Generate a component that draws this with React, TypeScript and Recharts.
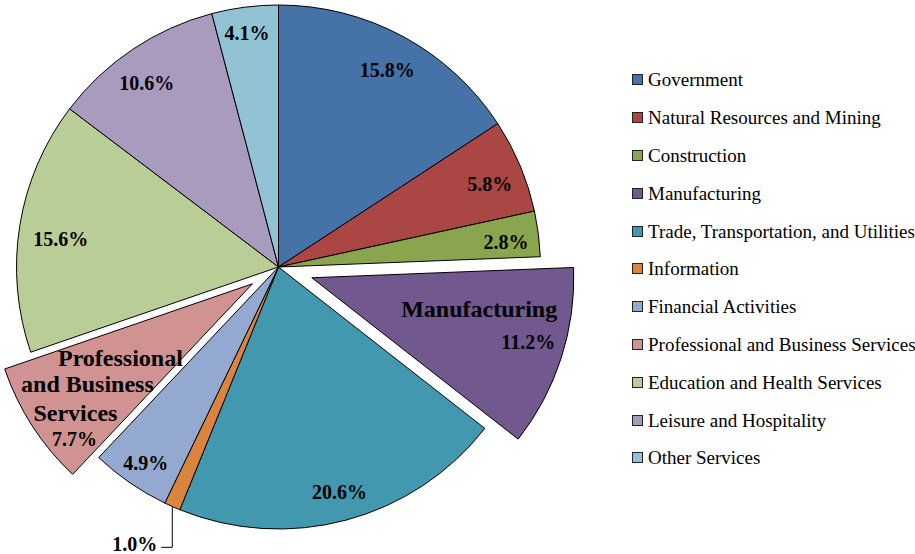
import React from 'react';
import { PieChart, Pie, Cell, Legend } from 'recharts';

const categories = [
  'Government',
  'Natural Resources and Mining',
  'Construction',
  'Manufacturing',
  'Trade, Transportation, and Utilities',
  'Information',
  'Financial Activities',
  'Professional and Business Services',
  'Education and Health Services',
  'Leisure and Hospitality',
  'Other Services',
];
const shares = [15.8, 5.8, 2.8, 11.2, 20.6, 1.0, 4.9, 7.7, 15.6, 10.6, 4.1];
const colors = [
  '#4572A7', '#AA4643', '#89A54E', '#71588F', '#4198AF', '#DB843D',
  '#93A9CF', '#D19392', '#B9CD96', '#A99BBD', '#92C3D4',
];
// explosion distance (px) per slice
const explode = [0, 0, 0, 35, 0, 0, 0, 31, 0, 0, 0];
// label placement: radius fraction + angle tweak (deg)
const labelR = [0.858, 0.866, 0.873, 0.954, 0.891, 1, 0.903, 0.756, 0.838, 0.863, 0.902];
const labelDA = [-0.5, -1.4, -1.1, 6.9, 0.2, 0, 0.4, 2.3, 1.7, 1.8, 0.3];

const data = categories.map((name, i) => ({ name, value: shares[i] }));
const total = shares.reduce((a, b) => a + b, 0);
const RAD = Math.PI / 180;

const midAngleOf = (i: number) => {
  const before = shares.slice(0, i).reduce((a, b) => a + b, 0);
  return 90 - (360 * (before + shares[i] / 2)) / total;
};
const explodeVec = (i: number): [number, number] => {
  const a = midAngleOf(i) * RAD;
  return [explode[i] * Math.cos(a), -explode[i] * Math.sin(a)];
};

const CX = 278.5;
const CY = 267;
const R = 262;
const FONT = '"Liberation Serif", "Times New Roman", serif';

const pctText = (i: number) => `${shares[i].toFixed(1)}%`;

const renderLabel = (props: any) => {
  const { index } = props;
  const cx = props.cx ?? CX;
  const cy = props.cy ?? CY;
  const outerRadius = props.outerRadius ?? R;
  const mid = midAngleOf(index);
  const [ox, oy] = explodeVec(index);
  const ccx = cx + ox;
  const ccy = cy + oy;
  const a = (mid + labelDA[index]) * RAD;
  const x = ccx + outerRadius * labelR[index] * Math.cos(a);
  const y = ccy - outerRadius * labelR[index] * Math.sin(a);
  const common = { fontFamily: FONT, fontWeight: 700, fill: '#000' } as any;

  if (categories[index] === 'Information') {
    const ma = mid * RAD;
    const px = cx + outerRadius * Math.cos(ma);
    const py = cy - outerRadius * Math.sin(ma);
    const ly = cy + outerRadius * 1.07;
    return (
      <g key={`l${index}`}>
        <polyline points={`${px},${py} ${px},${ly} ${px - 11},${ly}`} fill="none" stroke="#000" strokeWidth={1} />
        <text x={px - 15} y={ly - 3} textAnchor="end" dominantBaseline="central" fontSize={20} {...common}>
          {pctText(index)}
        </text>
      </g>
    );
  }
  if (categories[index] === 'Manufacturing') {
    return (
      <g key={`l${index}`}>
        <text x={x} y={y - 16} textAnchor="end" dominantBaseline="central" fontSize={24} {...common}>
          Manufacturing
        </text>
        <text x={x - 2} y={y + 17} textAnchor="end" dominantBaseline="central" fontSize={20} {...common}>
          {pctText(index)}
        </text>
      </g>
    );
  }
  if (categories[index] === 'Professional and Business Services') {
    const lines: [string, number, number, number][] = [
      ['Professional', 30, -40, 24],
      ['and Business', -3, -14, 24],
      ['Services', -15, 15, 24],
      [pctText(index), -16, 41, 20],
    ];
    return (
      <g key={`l${index}`}>
        {lines.map(([t, dx, dy, fs], k) => (
          <text key={k} x={x + dx} y={y + dy} textAnchor="middle" dominantBaseline="central" fontSize={fs} {...common}>
            {t}
          </text>
        ))}
      </g>
    );
  }
  return (
    <text key={`l${index}`} x={x} y={y} textAnchor="middle" dominantBaseline="central" fontSize={20} {...common}>
      {pctText(index)}
    </text>
  );
};

const LegendList = () => (
  <div style={{ fontFamily: FONT, fontSize: 19, color: '#000' }}>
    {categories.map((c, i) => (
      <div key={c} style={{ display: 'flex', alignItems: 'center', height: 37.8, whiteSpace: 'nowrap' }}>
        <span
          style={{
            display: 'inline-block',
            width: 11,
            height: 11,
            boxSizing: 'border-box',
            border: '1px solid #222',
            background: colors[i],
            marginRight: 5,
            flex: 'none',
          }}
        />
        <span style={{ lineHeight: 1 }}>{c}</span>
      </div>
    ))}
  </div>
);

const explodedIdx = explode.map((e, i) => (e > 0 ? i : -1)).filter((i) => i >= 0);

export default function App() {
  return (
    <div style={{ position: 'absolute', left: 0, top: 0, width: 915, height: 554, background: '#fff' }}>
      <PieChart width={915} height={554} margin={{ top: 0, right: 0, bottom: 0, left: 0 }}>
        <Pie
          data={data}
          dataKey="value"
          nameKey="name"
          cx={CX}
          cy={CY}
          outerRadius={R}
          startAngle={90}
          endAngle={-270}
          isAnimationActive={false}
          label={renderLabel}
          labelLine={false}
          legendType="none"
        >
          {data.map((d, i) => (
            <Cell
              key={d.name}
              fill={explode[i] > 0 ? 'none' : colors[i]}
              stroke={explode[i] > 0 ? 'none' : '#000'}
              strokeWidth={1}
            />
          ))}
        </Pie>
        {explodedIdx.map((ei) => {
          const [ox, oy] = explodeVec(ei);
          return (
            <Pie
              key={`ex${ei}`}
              data={data}
              dataKey="value"
              nameKey="name"
              cx={CX + ox}
              cy={CY + oy}
              outerRadius={R}
              startAngle={90}
              endAngle={-270}
              isAnimationActive={false}
              legendType="none"
            >
              {data.map((d, i) => (
                <Cell
                  key={d.name}
                  fill={i === ei ? colors[i] : 'none'}
                  stroke={i === ei ? '#000' : 'none'}
                  strokeWidth={1}
                />
              ))}
            </Pie>
          );
        })}
        <Legend
          content={() => <LegendList />}
          wrapperStyle={{ position: 'absolute', left: 632, top: 61, width: 283, height: 420 }}
        />
      </PieChart>
    </div>
  );
}
